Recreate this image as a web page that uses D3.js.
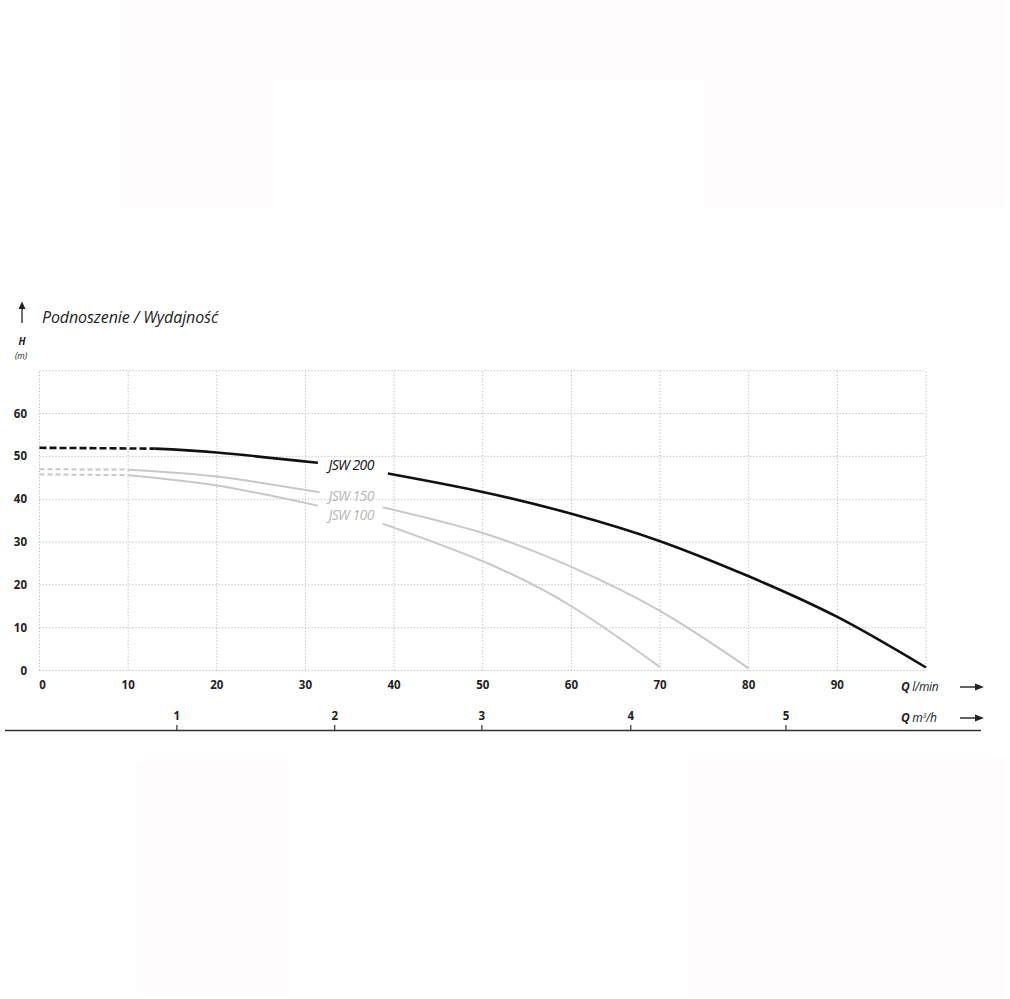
<!DOCTYPE html>
<html>
<head>
<meta charset="utf-8">
<script src="https://cdn.jsdelivr.net/npm/d3@7"></script>
<style>
  body { margin: 0; background: #fff; }
  svg { display: block; font-family: "Open Sans", "Noto Sans", sans-serif; }
</style>
</head>
<body>
<svg width="1010" height="999"></svg>
<script>
// przepływ Q (l/min) i podnoszenie H (m)
const jsw200Q = [0, 13, 20, 31.4, 39.3, 50, 60, 70, 80, 90, 100];
const jsw200H = [52, 51.8, 50.9, 48.5, 46, 41.7, 36.6, 30.2, 22, 12.5, 0.7];
const jsw150Q = [0, 10, 20, 31.6, 38.7, 50, 60, 70, 80];
const jsw150H = [47, 46.9, 45.3, 41.6, 38.1, 32.1, 24.2, 13.9, 0.5];
const jsw100Q = [0, 10, 20, 31.4, 38.7, 50, 60, 70];
const jsw100H = [45.8, 45.6, 43.2, 38.5, 34.3, 25.5, 15, 0.8];

const pumpNames = ["JSW 200", "JSW 150", "JSW 100"];
const labelH = [46.9, 39.5, 35.1];       // wysokość podpisu (m)
const dashTo = [13, 10, 10];             // przerywana część do Q
const gapFrom = [31.4, 31.6, 31.4];      // przerwa na podpis
const gapTo = [39.3, 38.7, 38.7];

const qTicks = [0, 10, 20, 30, 40, 50, 60, 70, 80, 90];
const hTicks = [0, 10, 20, 30, 40, 50, 60];
const m3hLabels = ["1", "2", "3", "4", "5"];
const m3hAtQ = [15.5, 33.3, 49.9, 66.7, 84.2]; // położenie znaczników m³/h na osi l/min

const svg = d3.select("svg");

// blade tło jak w oryginale
const bg = svg.append("g").attr("fill", "#fefcfd");
bg.append("rect").attr("x", 120).attr("y", 0).attr("width", 885).attr("height", 80);
bg.append("rect").attr("x", 120).attr("y", 80).attr("width", 155).attr("height", 127);
bg.append("rect").attr("x", 705).attr("y", 80).attr("width", 300).attr("height", 127);
bg.append("rect").attr("x", 135).attr("y", 760).attr("width", 157).attr("height", 235).attr("rx", 12);
bg.append("rect").attr("x", 688).attr("y", 760).attr("width", 317).attr("height", 239);

const x = d3.scaleLinear().domain([0, 100]).range([39.5, 926]);
const y = d3.scaleLinear().domain([0, 70]).range([670.5, 370.7]);

// siatka
const grid = svg.append("g")
  .attr("stroke", "#b9b9b9")
  .attr("stroke-width", 1)
  .attr("stroke-dasharray", "1.2,2");
grid.selectAll(".v")
  .data(d3.range(0, 101, 10))
  .enter().append("line")
  .attr("x1", d => x(d)).attr("x2", d => x(d))
  .attr("y1", y(0)).attr("y2", y(70));
grid.selectAll(".h")
  .data(d3.range(0, 71, 10))
  .enter().append("line")
  .attr("x1", x(0)).attr("x2", x(100))
  .attr("y1", d => y(d)).attr("y2", d => y(d));

// opisy osi Y
svg.append("g")
  .selectAll("text")
  .data(hTicks)
  .enter().append("text")
  .attr("x", 27)
  .attr("y", d => y(d) + 4)
  .attr("text-anchor", "end")
  .attr("font-size", 11.5)
  .attr("font-weight", 700)
  .attr("fill", "#222")
  .text(d => d);

// opisy osi X (l/min)
svg.append("g")
  .selectAll("text")
  .data(qTicks)
  .enter().append("text")
  .attr("x", d => x(d) + (d === 0 ? 3 : 0))
  .attr("y", 689)
  .attr("text-anchor", "middle")
  .attr("font-size", 11.5)
  .attr("font-weight", 700)
  .attr("fill", "#222")
  .text(d => d);

// oś m³/h
svg.append("line")
  .attr("x1", 5).attr("x2", 981)
  .attr("y1", 730.5).attr("y2", 730.5)
  .attr("stroke", "#333").attr("stroke-width", 1.5);
const m3 = svg.append("g");
m3.selectAll("line")
  .data(m3hAtQ)
  .enter().append("line")
  .attr("x1", d => x(d)).attr("x2", d => x(d))
  .attr("y1", 725).attr("y2", 731)
  .attr("stroke", "#333").attr("stroke-width", 1.2);
m3.selectAll("text")
  .data(m3hAtQ)
  .enter().append("text")
  .attr("x", d => x(d))
  .attr("y", 720)
  .attr("text-anchor", "middle")
  .attr("font-size", 11.5)
  .attr("font-weight", 700)
  .attr("fill", "#222")
  .text((d, i) => m3hLabels[i]);

// krzywe pomp
const pumps = [
  { q: jsw200Q, h: jsw200H, color: "#111", width: 2.6, dash: "7,3", text: "#111" },
  { q: jsw150Q, h: jsw150H, color: "#c8c8c8", width: 2, dash: "5,3", text: "#b8b8b8" },
  { q: jsw100Q, h: jsw100H, color: "#c8c8c8", width: 2, dash: "5,3", text: "#b8b8b8" }
];

const line = d3.line()
  .x(d => x(d[0]))
  .y(d => y(d[1]))
  .curve(d3.curveNatural);

function part(p, a, b) {
  return p.q.map((q, i) => [q, p.h[i]]).filter(d => d[0] >= a && d[0] <= b);
}

// szare najpierw, czarna na wierzchu
[2, 1, 0].forEach(i => {
  const p = pumps[i];
  const g = svg.append("g")
    .attr("fill", "none")
    .attr("stroke", p.color)
    .attr("stroke-width", p.width)
    .attr("stroke-linecap", "butt");
  g.append("path").attr("d", line(part(p, 0, dashTo[i]))).attr("stroke-dasharray", p.dash);
  g.append("path").attr("d", line(part(p, dashTo[i], gapFrom[i])));
  g.append("path").attr("d", line(part(p, gapTo[i], 100)));

  svg.append("text")
    .attr("x", x(32.6))
    .attr("y", y(labelH[i]))
    .attr("font-size", 14)
    .attr("font-style", "italic")
    .attr("letter-spacing", "-0.6")
    .attr("fill", p.text)
    .text(pumpNames[i]);
});

// nagłówek
svg.append("line")
  .attr("x1", 22).attr("x2", 22)
  .attr("y1", 308).attr("y2", 323)
  .attr("stroke", "#222").attr("stroke-width", 1.3);
svg.append("path")
  .attr("d", "M18.5,309 L22,301.5 L25.5,309 Z")
  .attr("fill", "#222");
svg.append("text")
  .attr("x", 42).attr("y", 323)
  .attr("font-size", 16)
  .attr("font-style", "italic")
  .attr("letter-spacing", "-0.1")
  .attr("fill", "#222")
  .text("Podnoszenie / Wydajność");
svg.append("text")
  .attr("x", 22).attr("y", 345)
  .attr("text-anchor", "middle")
  .attr("font-size", 10)
  .attr("font-weight", 700)
  .attr("font-style", "italic")
  .attr("fill", "#222")
  .text("H");
svg.append("text")
  .attr("x", 21).attr("y", 358.5)
  .attr("text-anchor", "middle")
  .attr("font-size", 8.5)
  .attr("font-style", "italic")
  .attr("fill", "#222")
  .text("(m)");

// jednostki osi poziomych
function unitLabel(yy, unit, sup) {
  const t = svg.append("text")
    .attr("x", 901).attr("y", yy)
    .attr("font-size", 12)
    .attr("font-style", "italic")
    .attr("letter-spacing", "-0.3")
    .attr("fill", "#222");
  t.append("tspan").attr("font-weight", 700).text("Q ");
  t.append("tspan").text(unit);
  if (sup) {
    t.append("tspan").attr("font-size", 7).attr("dy", -4).text(sup);
    t.append("tspan").attr("dy", 4).text("/h");
  }
  svg.append("line")
    .attr("x1", 960).attr("x2", 977)
    .attr("y1", yy - 4).attr("y2", yy - 4)
    .attr("stroke", "#222").attr("stroke-width", 1.4);
  svg.append("path")
    .attr("d", `M975,${yy - 7.5} L984,${yy - 4} L975,${yy - 0.5} Z`)
    .attr("fill", "#222");
}
unitLabel(691, "l/min");
unitLabel(722, "m", "3");
</script>
</body>
</html>
